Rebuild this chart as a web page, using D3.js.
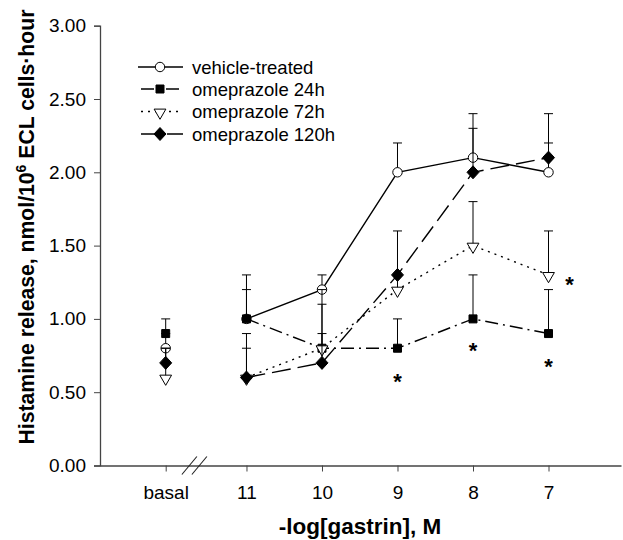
<!DOCTYPE html>
<html>
<head>
<meta charset="utf-8">
<script src="https://cdn.jsdelivr.net/npm/d3@7"></script>
<style>
  body { margin: 0; background: #fff; }
  text { font-family: "Liberation Sans", Arial, Helvetica, sans-serif; }
</style>
</head>
<body>
<svg id="chart" width="623" height="540"></svg>
<script>
// x categories: "basal" sits left of the axis break, then -log[gastrin]
var xLabels = ["basal", "11", "10", "9", "8", "7"];
var xPos = [12.07, 11, 10, 9, 8, 7];

var vehicle = [0.80, 1.00, 1.20, 2.00, 2.10, 2.00];
var vehicleErr = [0.10, 0.30, 0.10, 0.20, 0.30, 0.20];
var ome24 = [0.90, 1.00, 0.80, 0.80, 1.00, 0.90];
var ome24Err = [0.10, 0.20, 0.30, 0.20, 0.30, 0.30];
var ome72 = [0.60, 0.60, 0.80, 1.20, 1.50, 1.30];
var ome72Err = [0.20, 0.20, 0.40, 0.10, 0.30, 0.30];
var ome120 = [0.70, 0.60, 0.70, 1.30, 2.00, 2.10];
var ome120Err = [0.10, 0.30, 0.20, 0.30, 0.30, 0.30];

var yTicks = [0, 0.5, 1, 1.5, 2, 2.5, 3];

// significance stars (x in -log units, y in data units)
var stars = [
    { x: 9, y: 0.59 },
    { x: 8, y: 0.80 },
    { x: 7, y: 0.69 },
    { x: 6.72, y: 1.25 }
];

var series = [
    { name: "vehicle-treated", values: vehicle, err: vehicleErr, symbol: "circle", fill: "#fff", dash: null },
    { name: "omeprazole 24h", values: ome24, err: ome24Err, symbol: "square", fill: "#000", dash: "13,5,2,5" },
    { name: "omeprazole 72h", values: ome72, err: ome72Err, symbol: "triangle", fill: "#fff", dash: "2,5" },
    { name: "omeprazole 120h", values: ome120, err: ome120Err, symbol: "diamond", fill: "#000", dash: "19,7" }
];

var svg = d3.select("#chart");

var x = d3.scaleLinear().domain([12.94, 6.04]).range([100, 621]);
var y = d3.scaleLinear().domain([0, 3]).range([465.5, 25.7]);

var axisColor = "#444";

// y axis
var yAxis = svg.append("g")
    .attr("transform", "translate(" + x(12.94) + ",0)")
    .call(d3.axisLeft(y).tickValues(yTicks).tickFormat(d3.format(".2f")).tickSize(6).tickPadding(8));
yAxis.select(".domain").attr("stroke", axisColor).attr("stroke-width", 1.3);
yAxis.selectAll(".tick line").attr("stroke", axisColor);
yAxis.selectAll(".tick text").attr("font-size", 19).attr("fill", "#000");

// x axis
var xAxis = svg.append("g")
    .attr("transform", "translate(0," + y(0) + ")")
    .call(d3.axisBottom(x).tickValues(xPos).tickFormat(function (d, i) { return xLabels[i]; })
        .tickSizeInner(6).tickSizeOuter(0).tickPadding(14));
xAxis.select(".domain").attr("stroke", axisColor).attr("stroke-width", 1.3);
xAxis.selectAll(".tick line").attr("stroke", axisColor);
xAxis.selectAll(".tick text").attr("font-size", 19).attr("fill", "#000");

// axis break marks
var breakX = x(11.69);
[-5, 5].forEach(function (off) {
    svg.append("line")
        .attr("x1", breakX + off - 7.5).attr("y1", y(0) + 9)
        .attr("x2", breakX + off + 7.5).attr("y2", y(0) - 9)
        .attr("stroke", "#222").attr("stroke-width", 1.1);
});

// axis titles
svg.append("text")
    .attr("x", 360).attr("y", 534)
    .attr("text-anchor", "middle")
    .attr("font-size", 22.5).attr("font-weight", "bold")
    .text("-log[gastrin], M");

var yTitle = svg.append("text")
    .attr("transform", "translate(34,227) rotate(-90)")
    .attr("text-anchor", "middle")
    .attr("font-size", 21.2).attr("font-weight", "bold");
yTitle.append("tspan").text("Histamine release, nmol/10");
yTitle.append("tspan").attr("dy", -8).attr("font-size", 14).text("6");
yTitle.append("tspan").attr("dy", 8).text(" ECL cells\u00b7hour");

var symSize = { circle: 70, square: 64, triangle: 60 };

function drawSymbol(g, s, cx, cy) {
    var p = g.append("path")
        .attr("fill", s.fill)
        .attr("stroke", "#000")
        .attr("stroke-width", 1);
    if (s.symbol == "diamond") {
        p.attr("d", "M0,-6.5L6,0L0,6.5L-6,0Z")
            .attr("transform", "translate(" + cx + "," + cy + ")");
    } else if (s.symbol == "triangle") {
        p.attr("d", d3.symbol().type(d3.symbolTriangle).size(symSize.triangle)())
            .attr("transform", "translate(" + cx + "," + (cy + 1) + ") rotate(180)");
    } else {
        var t = s.symbol == "circle" ? d3.symbolCircle : d3.symbolSquare;
        p.attr("d", d3.symbol().type(t).size(symSize[s.symbol])())
            .attr("transform", "translate(" + cx + "," + cy + ")");
    }
}

var line = d3.line()
    .x(function (d) { return x(d[0]); })
    .y(function (d) { return y(d[1]); });

series.forEach(function (s) {
    var g = svg.append("g");
    // connecting line, skips basal
    var pts = xPos.map(function (xp, i) { return [xp, s.values[i]]; }).slice(1);
    g.append("path")
        .attr("d", line(pts))
        .attr("fill", "none")
        .attr("stroke", "#000")
        .attr("stroke-width", 1.4)
        .attr("stroke-dasharray", s.dash);

    // upper error bars
    xPos.forEach(function (xp, i) {
        var top = y(s.values[i] + s.err[i]);
        g.append("line")
            .attr("x1", x(xp)).attr("x2", x(xp))
            .attr("y1", y(s.values[i])).attr("y2", top)
            .attr("stroke", "#000").attr("stroke-width", 1);
        g.append("line")
            .attr("x1", x(xp) - 4.5).attr("x2", x(xp) + 4.5)
            .attr("y1", top).attr("y2", top)
            .attr("stroke", "#000").attr("stroke-width", 1);
    });

    xPos.forEach(function (xp, i) {
        drawSymbol(g, s, x(xp), y(s.values[i]));
    });
});

// stars
svg.selectAll(".star")
    .data(stars)
    .enter().append("text")
    .attr("class", "star")
    .attr("x", function (d) { return x(d.x); })
    .attr("y", function (d) { return y(d.y) + 10; })
    .attr("text-anchor", "middle")
    .attr("font-size", 22)
    .attr("font-weight", "bold")
    .text("*");

// legend
var legendY = [67, 89, 111.5, 134];
series.forEach(function (s, i) {
    var g = svg.append("g");
    g.append("line")
        .attr("x1", 138).attr("x2", 183)
        .attr("y1", legendY[i]).attr("y2", legendY[i])
        .attr("stroke", "#000").attr("stroke-width", 1.4)
        .attr("stroke-dasharray", s.dash)
        .attr("stroke-dashoffset", s.dash ? -3 : null);
    drawSymbol(g, s, 160, legendY[i]);
    g.append("text")
        .attr("x", 192).attr("y", legendY[i] + 6.5)
        .attr("font-size", 18.5)
        .text(s.name);
});
</script>
</body>
</html>
